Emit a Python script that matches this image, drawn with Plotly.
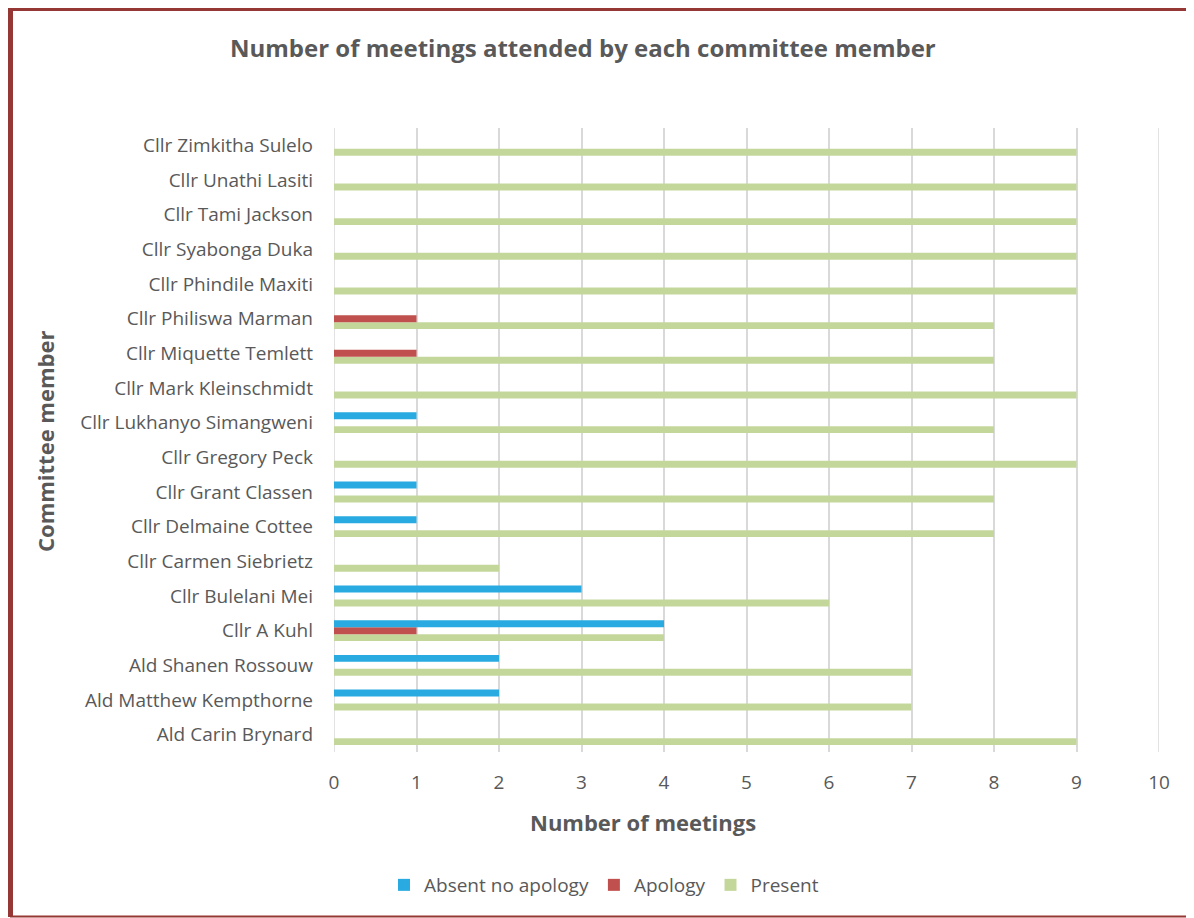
import plotly.graph_objects as go

members = [
    "Ald Carin Brynard", "Ald Matthew Kempthorne", "Ald Shanen Rossouw", "Cllr A Kuhl",
    "Cllr Bulelani Mei", "Cllr Carmen Siebrietz", "Cllr Delmaine Cottee", "Cllr Grant Classen",
    "Cllr Gregory Peck", "Cllr Lukhanyo Simangweni", "Cllr Mark Kleinschmidt",
    "Cllr Miquette Temlett", "Cllr Philiswa Marman", "Cllr Phindile Maxiti",
    "Cllr Syabonga Duka", "Cllr Tami Jackson", "Cllr Unathi Lasiti", "Cllr Zimkitha Sulelo",
]
absent = [0, 2, 2, 4, 3, 0, 1, 1, 0, 1, 0, 0, 0, 0, 0, 0, 0, 0]
apology = [0, 0, 0, 1, 0, 0, 0, 0, 0, 0, 0, 1, 1, 0, 0, 0, 0, 0]
present = [9, 7, 7, 4, 6, 2, 8, 8, 9, 8, 9, 8, 8, 9, 9, 9, 9, 9]
x_ticks = list(range(0, 11))

FONT = "Open Sans"
GREY = "#595959"
OFF = 8  # page body margin
W, H = 1194 - OFF, 918 - OFF
L, R, T, B = 334, 1159, 128, 752  # plot area in reference pixels

def px(x):
    return (x - L) / (R - L)

def py(y):
    return (B - y) / (B - T)

fig = go.Figure()
fig.add_trace(go.Bar(y=members, x=present, name="Present", orientation="h",
                     marker=dict(color="#C4D79B", line=dict(width=0)), legendrank=3))
fig.add_trace(go.Bar(y=members, x=apology, name="Apology", orientation="h",
                     marker=dict(color="#C0504D", line=dict(width=0)), legendrank=2))
fig.add_trace(go.Bar(y=members, x=absent, name="Absent no apology", orientation="h",
                     marker=dict(color="#29ABE2", line=dict(width=0)), legendrank=1))

frame = "#953735"
shapes = [
    dict(type="line", xref="paper", yref="paper", x0=px(10), x1=px(10), y0=py(8), y1=py(917),
         line=dict(color=frame, width=6)),
    dict(type="line", xref="paper", yref="paper", x0=px(7), x1=px(1189), y0=py(8), y1=py(8),
         line=dict(color=frame, width=6)),
    dict(type="line", xref="paper", yref="paper", x0=px(1188), x1=px(1188), y0=py(8), y1=py(917),
         line=dict(color=frame, width=2)),
    dict(type="line", xref="paper", yref="paper", x0=px(10), x1=px(1189), y0=py(916.5), y1=py(916.5),
         line=dict(color=frame, width=2)),
]

annotations = [
    dict(text="<b>Number of meetings attended by each committee member</b>", xref="paper", yref="paper",
         x=px(583), y=py(47), xanchor="center", yanchor="middle", showarrow=False,
         font=dict(family=FONT, size=24, color=GREY)),
    dict(text="<b>Number of meetings</b>", xref="paper", yref="paper",
         x=px(643), y=py(822), xanchor="center", yanchor="middle", showarrow=False,
         font=dict(family=FONT, size=22, color=GREY)),
    dict(text="<b>Committee member</b>", xref="paper", yref="paper", textangle=-90,
         x=px(45), y=py(442), xanchor="center", yanchor="middle", showarrow=False,
         font=dict(family=FONT, size=22, color=GREY)),
]

fig.update_layout(
    width=W, height=H,
    margin=dict(l=L - OFF, r=W - (R - OFF), t=T - OFF, b=H - (B - OFF)),
    paper_bgcolor="white", plot_bgcolor="white",
    barmode="group", bargap=0.4, bargroupgap=0,
    font=dict(family=FONT, size=19, color=GREY),
    shapes=shapes, annotations=annotations,
    showlegend=True,
    legend=dict(orientation="h", x=px(604), y=py(885), xanchor="center", yanchor="middle",
                font=dict(family=FONT, size=19, color=GREY), itemwidth=30,
                traceorder="normal"),
    xaxis=dict(range=[0, 10.0], tickvals=x_ticks, showgrid=True, gridcolor="#D9D9D9", gridwidth=1.5,
               zeroline=False, showline=False, ticks="", ticklabelstandoff=17,
               tickfont=dict(family=FONT, size=19, color=GREY), fixedrange=True),
    yaxis=dict(type="category", categoryorder="array", categoryarray=members, showgrid=False,
               zeroline=False, showline=False, ticks="", ticklabelstandoff=20,
               tickfont=dict(family=FONT, size=19, color=GREY)),
)
fig.add_shape(type="line", xref="x", yref="paper", x0=0, x1=0, y0=0, y1=1,
              line=dict(color="#D9D9D9", width=1.5), layer="below")
fig.add_shape(type="line", xref="x", yref="paper", x0=10, x1=10, y0=0, y1=1,
              line=dict(color="#D9D9D9", width=1.5), layer="below")

fig.write_html("out.html")
